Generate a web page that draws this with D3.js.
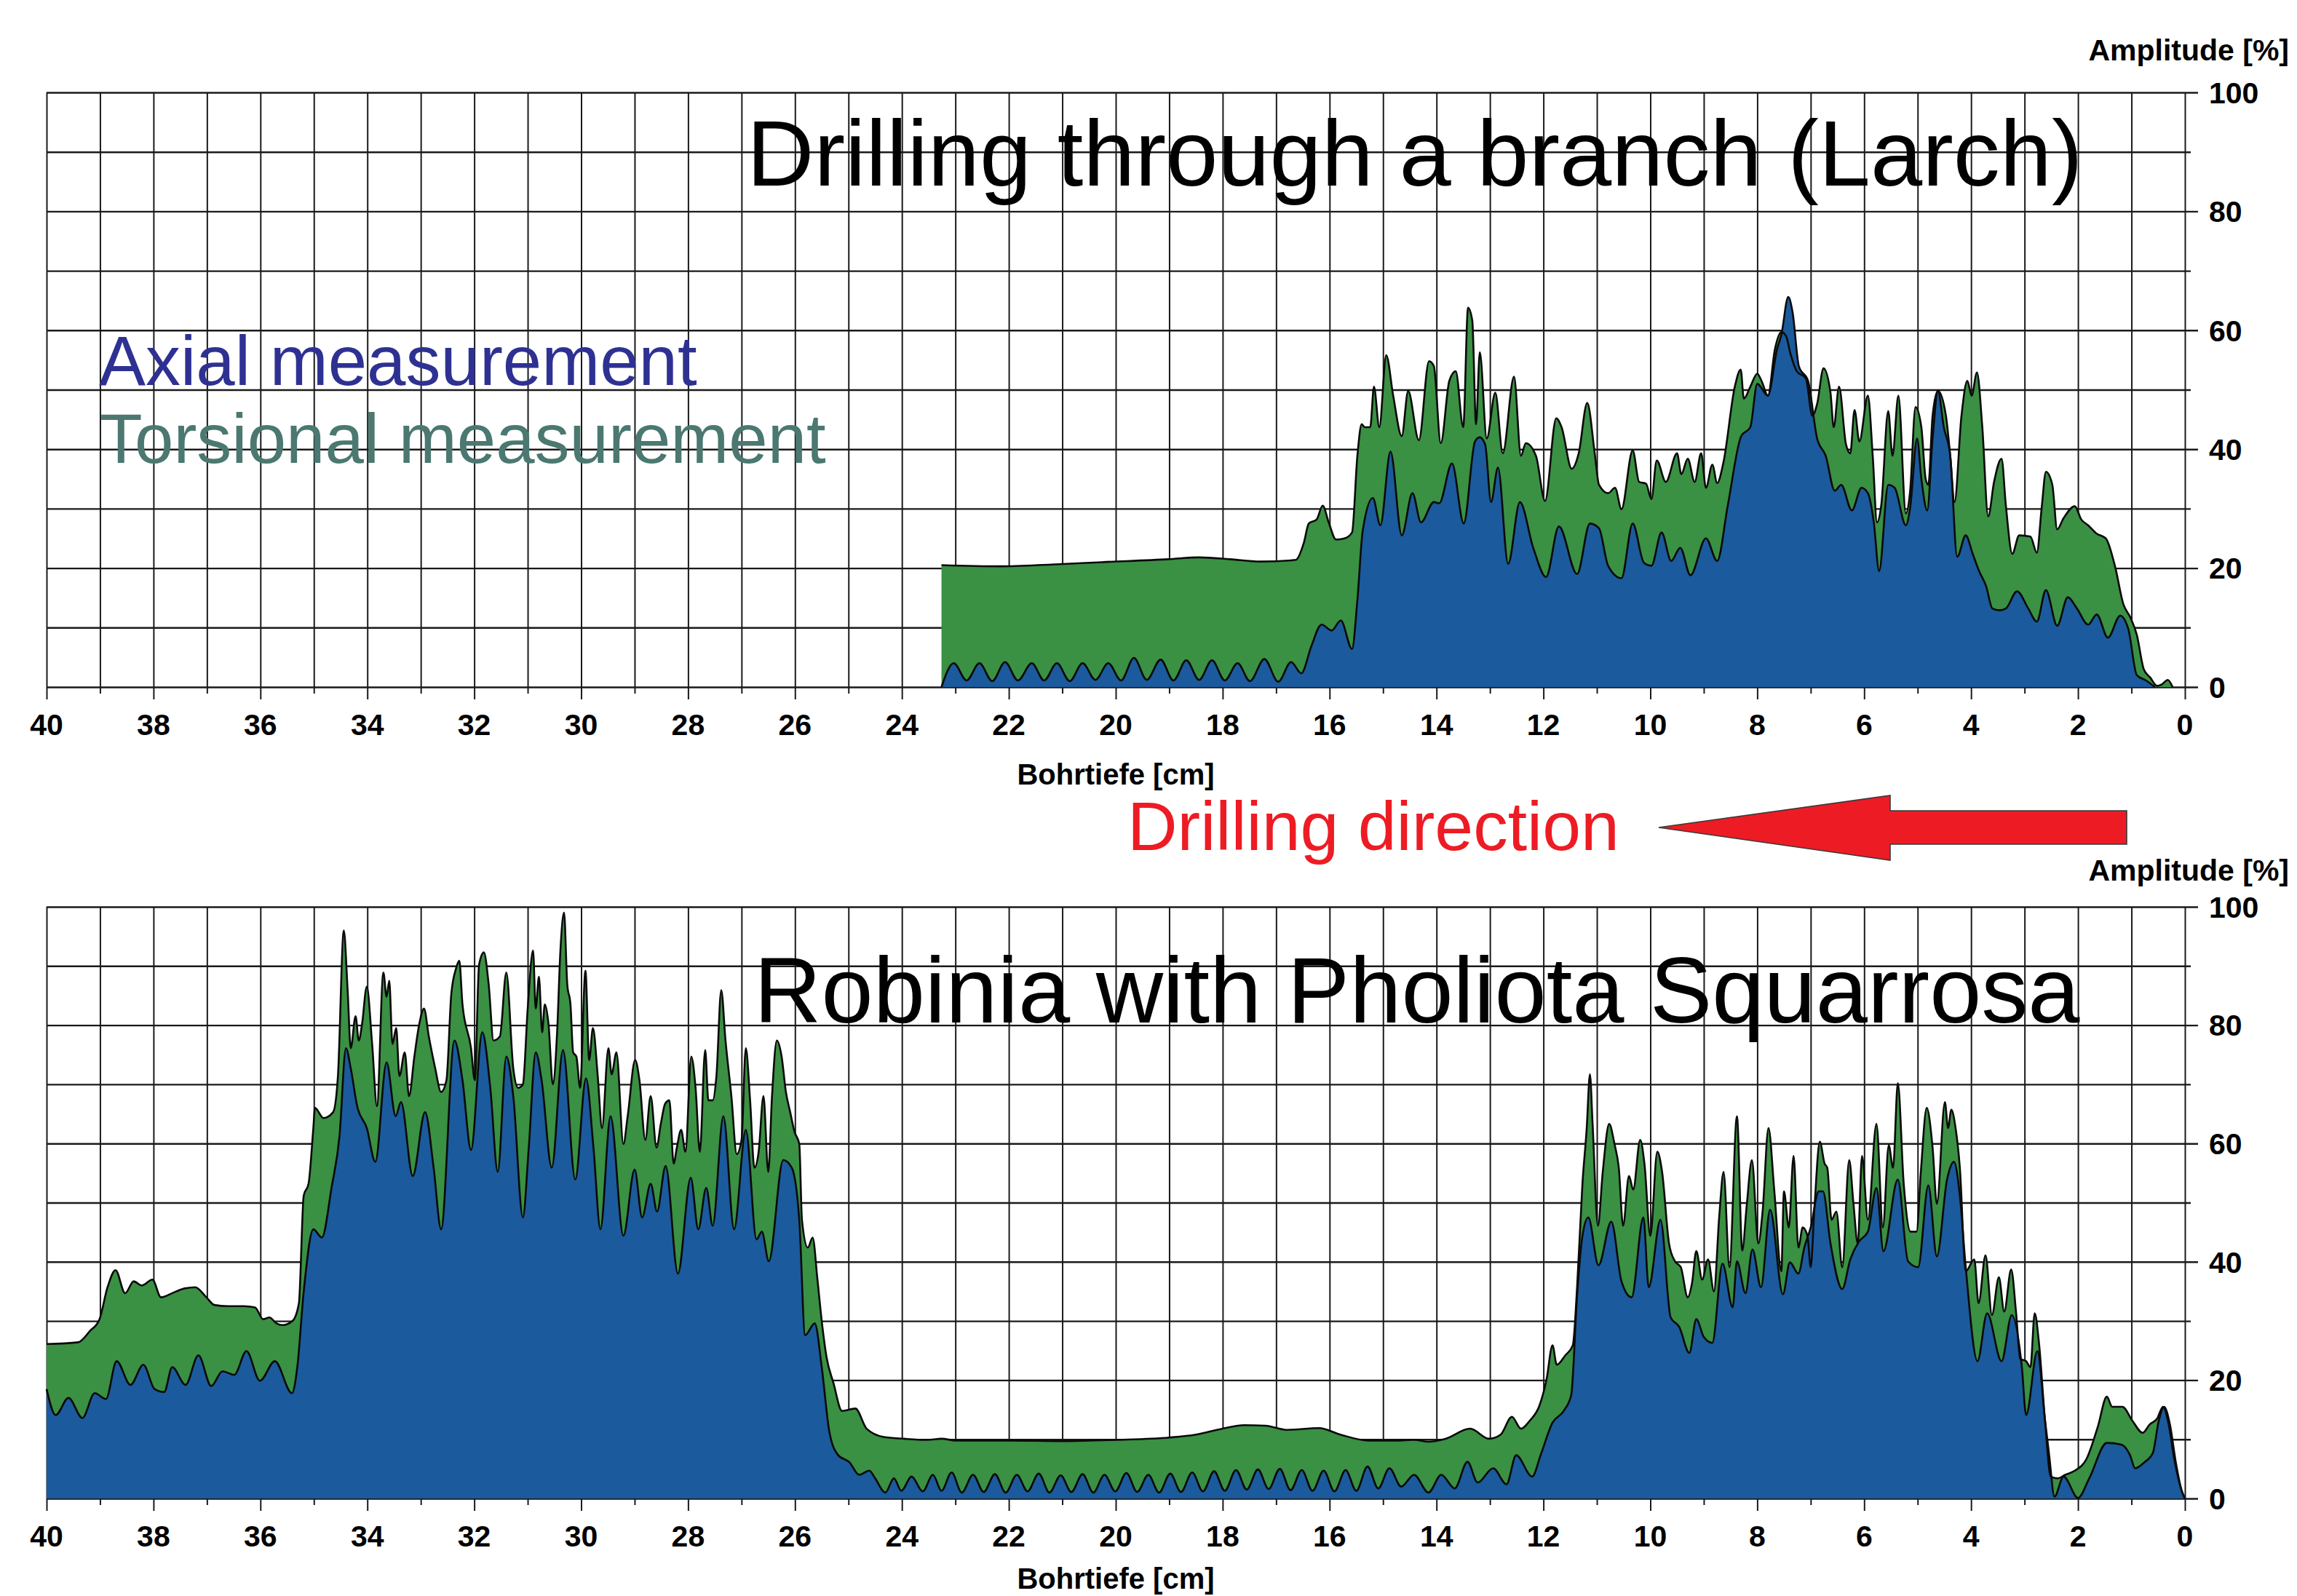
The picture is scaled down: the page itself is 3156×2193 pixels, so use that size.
<!DOCTYPE html>
<html><head><meta charset="utf-8">
<script src="https://cdn.jsdelivr.net/npm/d3@7"></script>
<style>html,body{margin:0;padding:0;background:#fff;overflow:hidden}</style>
</head><body>
<svg id="chart" width="3156" height="2193"></svg>
<script>
// ---------- DATA ----------
const depthTickLabels = [40,38,36,34,32,30,28,26,24,22,20,18,16,14,12,10,8,6,4,2,0];
const amplitudeTickLabels = [0,20,40,60,80,100];
const titles = ["Drilling through a branch (Larch)", "Robinia with Pholiota Squarrosa"];
const seriesNames = ["Axial measurement", "Torsional measurement"];

// [depth cm, amplitude %]
const larchTorsional = [
[23.26,20.5],[22.17,20.3],[21.21,20.6],[20.26,21.0],[19.01,21.5],[18.44,21.8],[17.87,21.5],[17.30,21.1],[16.72,21.3],[16.63,21.4],
[16.48,24.3],[16.39,27.5],[16.24,28.2],[16.13,30.5],[16.01,27.5],[15.88,24.8],[15.72,25.0],[15.58,26.0],[15.48,38.9],[15.40,44.2],
[15.34,43.7],[15.24,43.7],[15.17,50.5],[15.07,43.7],[14.94,55.8],[14.81,49.0],[14.65,42.2],[14.53,49.8],[14.33,41.5],[14.14,54.8],
[14.05,54.0],[13.92,41.0],[13.76,51.5],[13.64,53.1],[13.50,43.7],[13.41,63.8],[13.33,61.6],[13.26,44.2],[13.19,56.3],[13.06,41.8],
[12.90,49.5],[12.76,39.3],[12.55,52.2],[12.42,38.9],[12.33,41.0],[12.14,38.9],[11.97,31.3],[11.76,45.2],[11.66,43.7],[11.47,36.7],
[11.34,39.3],[11.18,47.8],[11.04,39.3],[10.96,34.0],[10.79,32.6],[10.66,33.5],[10.54,29.9],[10.33,39.8],[10.21,34.5],[10.08,34.2],
[9.98,31.6],[9.88,38.1],[9.71,34.5],[9.50,39.3],[9.42,35.8],[9.30,38.4],[9.17,34.5],[9.05,39.3],[8.96,33.5],[8.84,37.4],
[8.75,34.3],[8.63,37.9],[8.42,50.5],[8.31,53.4],[8.25,48.5],[8.13,50.5],[8.00,52.7],[7.92,51.5],[7.80,49.0],[7.67,56.8],
[7.55,59.7],[7.46,59.0],[7.38,56.1],[7.26,53.1],[7.09,51.9],[6.97,45.6],[6.88,47.6],[6.76,53.6],[6.63,49.5],[6.57,43.7],
[6.47,50.5],[6.34,40.8],[6.26,39.3],[6.18,46.6],[6.09,41.3],[5.93,49.0],[5.84,38.9],[5.76,27.7],[5.68,30.6],[5.55,46.4],
[5.47,38.9],[5.36,49.0],[5.22,29.2],[5.14,33.0],[5.04,47.1],[4.93,43.7],[4.85,35.0],[4.80,34.0],[4.72,45.6],[4.62,49.8],
[4.47,45.6],[4.39,38.9],[4.31,31.1],[4.18,45.6],[4.07,51.5],[3.99,49.0],[3.89,52.9],[3.79,43.7],[3.68,28.7],[3.57,34.5],
[3.43,38.4],[3.35,30.6],[3.23,22.4],[3.10,25.5],[2.89,25.3],[2.77,22.6],[2.68,30.1],[2.60,36.2],[2.48,34.0],[2.39,26.5],
[2.27,28.4],[2.06,30.4],[1.94,28.2],[1.81,27.2],[1.65,25.8],[1.48,25.0],[1.31,20.4],[1.15,13.9],[1.02,11.7],[0.90,8.8],
[0.77,3.0],[0.65,1.6],[0.52,0.2],[0.44,0.4],[0.32,1.2],[0.23,0.0]
];
const larchAxial = [
[23.26,0],[23.03,4.0],[22.79,1.1],[22.55,4.0],[22.31,1.0],[22.07,4.2],[21.83,1.1],[21.57,4.0],[21.34,1.1],[21.10,4.0],
[20.86,1.0],[20.62,4.0],[20.38,1.2],[20.14,4.0],[19.90,1.1],[19.66,4.9],[19.42,1.2],[19.16,4.6],[18.92,1.1],[18.68,4.5],
[18.44,1.2],[18.20,4.5],[17.96,1.1],[17.72,4.0],[17.49,1.0],[17.22,4.7],[16.96,0.9],[16.72,4.2],[16.53,2.3],[16.34,6.9],
[16.15,10.5],[15.96,9.5],[15.79,11.2],[15.58,6.4],[15.48,14.6],[15.38,26.3],[15.19,31.8],[15.05,27.2],[14.86,39.6],[14.65,25.5],
[14.45,32.6],[14.29,27.7],[14.05,31.1],[13.95,30.9],[13.71,37.6],[13.49,27.5],[13.28,41.3],[13.19,42.0],[13.09,40.8],[12.98,31.1],
[12.85,36.9],[12.66,20.7],[12.44,31.1],[12.19,23.4],[11.95,18.5],[11.71,27.0],[11.37,19.0],[11.13,27.5],[10.96,26.7],[10.79,20.4],
[10.54,18.3],[10.33,27.5],[10.12,20.9],[9.98,20.4],[9.79,26.0],[9.61,21.2],[9.44,23.4],[9.25,18.8],[8.96,25.0],[8.75,21.2],
[8.55,30.6],[8.30,42.2],[8.13,43.7],[8.00,51.0],[7.80,49.0],[7.63,56.8],[7.55,59.2],[7.42,65.6],[7.34,63.1],[7.22,53.9],
[7.05,51.5],[6.88,41.8],[6.72,38.9],[6.55,33.0],[6.43,34.0],[6.23,29.7],[6.05,33.5],[5.93,32.6],[5.82,27.7],[5.72,19.5],
[5.55,34.0],[5.43,33.5],[5.22,27.2],[5.14,30.1],[5.01,41.8],[4.93,35.0],[4.82,29.7],[4.72,41.8],[4.62,49.8],[4.51,43.7],
[4.39,38.9],[4.26,21.9],[4.10,25.5],[3.97,22.4],[3.85,19.5],[3.72,17.0],[3.60,13.2],[3.47,12.9],[3.35,13.2],[3.14,16.1],
[2.93,13.2],[2.77,11.0],[2.60,16.3],[2.39,10.3],[2.19,15.1],[2.02,13.2],[1.81,10.5],[1.65,12.2],[1.44,8.3],[1.21,12.0],
[1.06,9.8],[0.90,2.0],[0.73,1.1],[0.56,0]
];
const robiniaTorsional = [
[40.00,26.1],[39.41,26.4],[39.19,28.3],[39.01,30.3],[38.86,35.7],[38.71,38.6],[38.53,34.7],[38.37,36.7],[38.22,36.0],[38.02,37.0],
[37.86,34.0],[37.65,34.7],[37.46,35.4],[37.22,35.7],[37.01,34.0],[36.86,32.7],[36.61,32.5],[36.31,32.5],[36.10,32.3],[35.95,30.3],
[35.83,30.6],[35.70,29.6],[35.58,29.3],[35.40,30.0],[35.28,33.0],[35.19,51.2],[35.10,53.2],[35.01,62.6],[34.98,66.0],[34.82,64.3],
[34.64,65.3],[34.55,71.4],[34.44,96.0],[34.37,86.2],[34.31,76.1],[34.22,81.5],[34.16,77.4],[34.10,80.1],[34.01,86.5],[33.91,76.8],
[33.82,66.3],[33.70,88.9],[33.64,84.8],[33.59,87.5],[33.53,76.8],[33.46,79.5],[33.40,71.4],[33.30,75.4],[33.22,68.0],[33.12,74.7],
[33.03,80.1],[32.94,82.8],[32.85,78.1],[32.73,72.7],[32.62,68.7],[32.52,70.7],[32.43,85.2],[32.34,89.6],[32.28,90.9],[32.22,83.5],
[32.06,76.1],[31.99,70.7],[31.91,90.2],[31.82,92.3],[31.73,86.9],[31.64,77.4],[31.52,78.1],[31.40,88.9],[31.27,72.7],[31.18,69.4],
[31.09,70.0],[31.00,82.8],[30.90,92.6],[30.85,82.8],[30.79,88.2],[30.73,78.8],[30.68,83.5],[30.61,80.1],[30.53,70.0],[30.45,78.8],
[30.39,92.3],[30.32,99.0],[30.26,86.9],[30.20,83.5],[30.15,75.4],[30.09,74.7],[30.02,69.4],[29.92,89.2],[29.85,74.1],[29.78,79.5],
[29.69,71.4],[29.61,62.6],[29.49,76.1],[29.43,71.7],[29.34,75.4],[29.21,59.9],[29.13,64.6],[28.99,74.1],[28.91,70.7],[28.80,60.6],
[28.70,68.0],[28.59,59.3],[28.51,63.3],[28.43,66.7],[28.35,67.3],[28.27,56.6],[28.21,59.3],[28.13,62.3],[28.05,58.6],[27.94,74.7],
[27.86,69.4],[27.78,58.6],[27.68,75.8],[27.62,67.3],[27.54,67.3],[27.47,71.4],[27.38,85.9],[27.30,77.4],[27.19,68.0],[27.09,58.2],
[27.00,60.6],[26.92,76.1],[26.84,67.3],[26.76,55.9],[26.68,58.6],[26.59,68.0],[26.50,55.2],[26.43,68.0],[26.34,77.4],[26.25,74.7],
[26.17,68.7],[26.09,65.3],[26.01,62.0],[25.92,59.9],[25.87,47.1],[25.76,42.4],[25.67,44.1],[25.58,37.0],[25.50,30.0],[25.41,23.9],
[25.28,19.5],[25.12,14.8],[24.87,15.2],[24.66,11.8],[24.34,10.4],[23.96,10.1],[23.53,9.9],[23.26,10.1],[22.99,9.8],[22.63,9.8],
[22.00,9.8],[21.00,9.7],[20.00,9.9],[19.00,10.3],[18.50,10.8],[18.00,11.8],[17.60,12.4],[17.20,12.3],[16.80,11.6],[16.20,11.9],
[15.80,10.8],[15.28,9.8],[14.74,9.8],[14.42,9.9],[14.15,9.6],[13.83,10.1],[13.37,11.8],[13.02,10.1],[12.80,10.8],[12.59,13.8],
[12.42,11.8],[12.26,13.1],[12.07,15.8],[11.94,20.2],[11.83,25.9],[11.75,22.6],[11.59,24.2],[11.45,25.9],[11.37,35.7],[11.27,53.2],
[11.19,62.6],[11.13,71.7],[11.08,63.3],[10.98,46.1],[10.89,55.2],[10.77,63.3],[10.67,59.9],[10.59,55.9],[10.51,46.1],[10.40,54.5],
[10.32,52.2],[10.19,60.6],[10.11,56.6],[10.00,44.4],[9.87,58.6],[9.78,55.2],[9.65,43.1],[9.54,40.1],[9.43,39.1],[9.30,34.0],
[9.22,36.4],[9.14,41.8],[9.03,37.0],[8.92,40.4],[8.81,35.0],[8.71,47.8],[8.63,55.2],[8.52,39.1],[8.38,64.6],[8.28,41.9],
[8.20,49.2],[8.10,57.2],[7.98,43.1],[7.90,48.5],[7.79,62.6],[7.68,51.9],[7.55,38.4],[7.50,51.9],[7.41,45.8],[7.32,57.9],
[7.23,42.4],[7.15,45.8],[7.06,44.4],[7.00,39.1],[6.93,49.2],[6.83,60.3],[6.74,56.6],[6.69,55.9],[6.61,47.1],[6.52,48.5],
[6.41,39.1],[6.28,57.2],[6.20,49.8],[6.12,43.1],[6.04,57.9],[5.93,47.1],[5.77,63.3],[5.65,45.8],[5.54,59.7],[5.46,55.9],
[5.37,70.2],[5.26,53.2],[5.13,45.1],[5.02,45.1],[4.94,55.2],[4.83,66.0],[4.72,59.3],[4.64,49.8],[4.49,67.0],[4.43,62.6],
[4.37,65.7],[4.29,62.6],[4.21,55.9],[4.10,38.4],[3.94,40.4],[3.86,33.0],[3.73,41.1],[3.61,31.0],[3.48,37.4],[3.38,31.6],
[3.25,38.7],[3.16,31.6],[3.08,23.6],[2.97,23.2],[2.89,22.2],[2.81,31.3],[2.73,26.3],[2.62,13.5],[2.51,3.7],[2.38,3.4],
[2.24,4.0],[2.06,4.7],[1.84,6.7],[1.63,12.1],[1.46,17.2],[1.36,15.5],[1.17,15.5],[0.98,13.1],[0.79,11.1],[0.66,12.5],
[0.52,13.5],[0.41,15.5],[0.31,12.8],[0.20,6.7],[0.06,1.3],[0.00,0.0]
];
const robiniaAxial = [
[40.00,18.5],[39.83,14.1],[39.59,17.0],[39.33,13.6],[39.10,17.8],[38.89,16.8],[38.69,23.2],[38.43,19.2],[38.19,22.6],[37.98,18.5],
[37.80,18.0],[37.65,22.2],[37.40,19.2],[37.16,24.2],[36.92,19.0],[36.71,21.5],[36.49,20.9],[36.26,24.9],[36.01,19.9],[35.73,23.2],
[35.41,17.8],[35.31,22.2],[35.19,35.0],[35.01,45.5],[34.85,44.1],[34.67,52.5],[34.52,61.3],[34.40,76.1],[34.31,72.7],[34.19,66.3],
[34.01,62.6],[33.85,56.9],[33.64,73.7],[33.47,64.6],[33.37,67.0],[33.15,54.5],[32.92,65.3],[32.76,55.9],[32.62,45.5],[32.37,77.4],
[32.22,70.7],[32.06,58.9],[31.85,78.8],[31.70,69.4],[31.56,55.2],[31.40,74.7],[31.27,68.0],[31.09,47.5],[30.98,59.3],[30.85,75.4],
[30.74,70.7],[30.55,55.9],[30.34,75.8],[30.11,53.9],[29.91,71.0],[29.77,59.3],[29.64,45.5],[29.45,64.6],[29.21,44.4],[29.00,55.6],
[28.86,47.5],[28.70,53.2],[28.58,48.5],[28.42,56.2],[28.19,38.0],[27.95,54.2],[27.81,45.5],[27.66,52.5],[27.54,46.1],[27.34,64.6],
[27.14,45.5],[26.92,62.3],[26.72,43.8],[26.62,45.1],[26.49,40.1],[26.22,57.2],[26.06,55.9],[25.92,47.1],[25.81,27.6],[25.63,29.6],
[25.50,22.2],[25.36,11.4],[25.20,7.4],[24.98,6.1],[24.80,4.0],[24.61,4.7],[24.50,3.4],[24.31,1.0],[24.15,3.4],[24.01,1.3],
[23.82,3.7],[23.61,1.2],[23.42,4.0],[23.26,1.3],[23.07,4.4],[22.88,1.0],[22.67,4.0],[22.47,1.1],[22.26,4.1],[22.06,1.0],
[21.85,4.0],[21.65,1.2],[21.44,4.2],[21.24,1.0],[21.03,3.9],[20.83,1.1],[20.62,4.1],[20.42,1.0],[20.21,4.0],[20.01,1.2],
[19.80,4.3],[19.60,1.1],[19.39,4.0],[19.19,1.0],[18.98,4.2],[18.78,1.1],[18.57,4.4],[18.37,1.2],[18.16,4.6],[17.96,1.3],
[17.75,4.8],[17.55,1.5],[17.34,4.9],[17.14,1.6],[16.93,5.0],[16.73,1.4],[16.52,4.8],[16.32,1.3],[16.11,4.7],[15.91,1.2],
[15.70,4.8],[15.50,1.3],[15.29,5.4],[15.09,1.7],[14.88,5.1],[14.66,2.0],[14.42,4.0],[14.15,1.0],[13.91,4.0],[13.66,1.7],
[13.42,6.2],[13.23,2.7],[12.94,5.1],[12.69,2.4],[12.51,7.3],[12.21,3.7],[12.05,7.4],[11.83,12.8],[11.62,14.8],[11.48,17.5],
[11.37,34.3],[11.27,44.4],[11.16,47.5],[10.97,39.4],[10.73,46.8],[10.54,36.7],[10.35,34.0],[10.13,47.5],[10.03,35.7],[9.81,47.1],
[9.62,30.6],[9.46,29.0],[9.27,24.6],[9.14,30.3],[9.00,27.3],[8.84,26.3],[8.65,39.7],[8.46,32.3],[8.38,40.1],[8.22,34.7],
[8.09,42.1],[7.93,35.7],[7.76,48.8],[7.52,34.5],[7.39,39.9],[7.23,38.0],[7.12,42.4],[7.00,45.8],[6.85,51.9],[6.77,51.9],
[6.63,43.1],[6.41,35.4],[6.26,40.4],[6.10,43.4],[5.93,45.1],[5.77,52.5],[5.64,41.8],[5.37,53.9],[5.18,40.1],[4.99,39.1],
[4.80,52.9],[4.64,40.9],[4.45,53.9],[4.32,56.9],[4.21,51.2],[4.10,39.1],[3.88,23.2],[3.70,31.3],[3.43,23.2],[3.24,31.0],
[3.05,22.2],[2.97,14.1],[2.76,24.9],[2.62,13.5],[2.54,7.4],[2.44,0.3],[2.27,3.7],[2.00,0.1],[1.79,3.4],[1.46,9.4],
[1.19,9.1],[1.03,7.4],[0.93,5.1],[0.76,6.1],[0.60,7.7],[0.49,13.1],[0.39,15.5],[0.28,12.5],[0.17,6.1],[0.06,1.3],[0.00,0]
];

// ---------- DRAW ----------
const W = 3156, H = 2193;
const FONT = "'Liberation Sans', Arial, Helvetica, sans-serif";
const BLUE = "#1b5a9d", GREEN = "#3a9043";
const svg = d3.select("#chart");
svg.append("rect").attr("width", W).attr("height", H).attr("fill", "#fff");

const x = d3.scaleLinear().domain([40, 0]).range([64, 3002]);

const panels = [
  { title: titles[0], top: 127, bottom: 944, torsional: larchTorsional, axial: larchAxial,
    titleX: 1026, titleY: 255, ampY: 83, tickY: 1010, axisTitleY: 1078 },
  { title: titles[1], top: 1246, bottom: 2059, torsional: robiniaTorsional, axial: robiniaAxial,
    titleX: 1036, titleY: 1405, ampY: 1210, tickY: 2125, axisTitleY: 2183 }
];

panels.forEach(p => {
  const y = d3.scaleLinear().domain([0, 100]).range([p.bottom, p.top]);
  const g = svg.append("g");
  const plotH = p.bottom - p.top;
  const plotW = x.range()[1] - x.range()[0];

  // vertical grid (every cm) with ticks below plot
  const allDepths = d3.range(0, 41, 1);
  const xMajor = d3.axisBottom(x).tickValues(allDepths.filter(d => d % 2 === 0))
      .tickSize(plotH + 17).tickFormat("");
  const xMinor = d3.axisBottom(x).tickValues(allDepths.filter(d => d % 2 === 1))
      .tickSize(plotH + 9).tickFormat("");
  [xMajor, xMinor].forEach(ax => {
    const a = g.append("g").attr("transform", `translate(0,${p.top})`).call(ax);
    a.select(".domain").remove();
    a.selectAll(".tick line").attr("stroke", "#1a1a1a").attr("stroke-width", 2);
  });

  // horizontal grid (every 10 %) extending right of plot
  const allAmps = d3.range(0, 101, 10);
  const yMajor = d3.axisRight(y).tickValues(allAmps.filter(v => v % 20 === 0))
      .tickSize(plotW + 18).tickFormat("");
  const yMinor = d3.axisRight(y).tickValues(allAmps.filter(v => v % 20 !== 0))
      .tickSize(plotW + 8).tickFormat("");
  [yMajor, yMinor].forEach(ax => {
    const a = g.append("g").attr("transform", `translate(${x.range()[0]},0)`).call(ax);
    a.select(".domain").remove();
    a.selectAll(".tick line").attr("stroke", "#1a1a1a").attr("stroke-width", 2.4);
  });

  // areas
  const area = d3.area().x(d => x(d[0])).y0(y(0)).y1(d => y(d[1])).curve(d3.curveMonotoneX);
  const line = d3.line().x(d => x(d[0])).y(d => y(d[1])).curve(d3.curveMonotoneX);
  g.append("path").datum(p.torsional).attr("d", area).attr("fill", GREEN);
  g.append("path").datum(p.axial).attr("d", area).attr("fill", BLUE);
  g.append("path").datum(p.torsional).attr("d", line).attr("fill", "none")
    .attr("stroke", "#0a0a0a").attr("stroke-width", 2.6).attr("stroke-linejoin", "round");
  g.append("path").datum(p.axial).attr("d", line).attr("fill", "none")
    .attr("stroke", "#0a0a0a").attr("stroke-width", 2.6).attr("stroke-linejoin", "round");

  // x tick labels
  g.selectAll("text.xl").data(depthTickLabels).join("text")
    .attr("x", d => x(d)).attr("y", p.tickY)
    .attr("text-anchor", "middle").attr("font-family", FONT).attr("font-weight", "bold")
    .attr("font-size", 41).attr("fill", "#000").text(d => d);

  // y tick labels
  g.selectAll("text.yl").data(amplitudeTickLabels).join("text")
    .attr("x", 3035).attr("y", d => y(d)).attr("dy", "0.36em")
    .attr("text-anchor", "start").attr("font-family", FONT).attr("font-weight", "bold")
    .attr("font-size", 41).attr("fill", "#000").text(d => d);

  // axis titles
  g.append("text").attr("x", 3145).attr("y", p.ampY).attr("text-anchor", "end")
    .attr("font-family", FONT).attr("font-weight", "bold").attr("font-size", 41)
    .text("Amplitude [%]");
  g.append("text").attr("x", 1533).attr("y", p.axisTitleY).attr("text-anchor", "middle")
    .attr("font-family", FONT).attr("font-weight", "bold").attr("font-size", 40)
    .text("Bohrtiefe [cm]");

  // panel title
  g.append("text").attr("x", p.titleX).attr("y", p.titleY)
    .attr("font-family", FONT).attr("font-size", 128).attr("fill", "#000").text(p.title);
});

// legend text in top panel
svg.append("text").attr("x", 136).attr("y", 529).attr("font-family", FONT)
  .attr("font-size", 96).attr("fill", "#2e3192").text(seriesNames[0]);
svg.append("text").attr("x", 137).attr("y", 636).attr("font-family", FONT)
  .attr("font-size", 96).attr("fill", "#4b7870").text(seriesNames[1]);

// drilling direction annotation
svg.append("text").attr("x", 1549).attr("y", 1168).attr("font-family", FONT)
  .attr("font-size", 95).attr("fill", "#ed1c24").text("Drilling direction");
svg.append("path")
  .attr("d", "M2279,1137 L2597,1093 L2597,1114 L2922,1114 L2922,1160 L2597,1160 L2597,1182 Z")
  .attr("fill", "#ed1c24").attr("stroke", "#3a3a3a").attr("stroke-width", 1.6);
</script>
</body></html>
